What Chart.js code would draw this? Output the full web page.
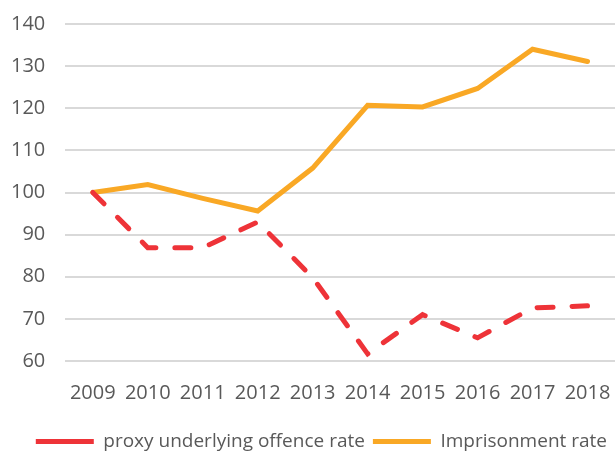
<!DOCTYPE html>
<html>
<head>
<meta charset="utf-8">
<script src="https://cdn.jsdelivr.net/npm/chart.js@4"></script>
<style>
   html, body { margin:0; padding:0; background:#fff; }
   #wrap { width:616px; height:451px; }
</style>
</head>
<body>
<div id="wrap"><canvas id="chart"></canvas></div>
<script>

let years = ["2009","2010","2011","2012","2013","2014","2015","2016","2017","2018"];

let offenceRate = [100, 86.9, 86.9, 93.0, 79.8, 61.7, 71.0, 65.5, 72.6, 73.1];

let imprisonmentRate = [100, 101.9, 98.6, 95.6, 105.8, 120.7, 120.3, 124.7, 134.0, 131.1];

let yTicks = [60, 70, 80, 90, 100, 110, 120, 130, 140];

Chart.defaults.font.family = "'Open Sans', sans-serif";
Chart.defaults.font.size = 20;
Chart.defaults.color = "#595959";

let ctx =
   document.getElementById("chart").getContext("2d");

new Chart(ctx, {

   type: "line",

   data: {

      labels: years,

      datasets: [
         {
            label: "proxy underlying offence rate",
            data: offenceRate,
            borderColor: "#EE3338",
            backgroundColor: "#EE3338",
            borderWidth: 5,
            borderDash: [16, 19],
            borderCapStyle: "round",
            pointRadius: 0,
            pointStyle: "line",
            tension: 0
         },
         {
            label: "Imprisonment rate",
            data: imprisonmentRate,
            borderColor: "#F9A825",
            backgroundColor: "#F9A825",
            borderWidth: 5,
            borderCapStyle: "round",
            pointRadius: 0,
            pointStyle: "line",
            tension: 0
         }
      ]

   },

   options: {

      responsive: true,
      maintainAspectRatio: false,
      animation: false,

      layout: {
         padding: { top: 24, left: 11, right: 1, bottom: -10 }
      },

      plugins: {

         legend: {
            position: "bottom",
            align: "end",
            labels: {
               usePointStyle: true,
               pointStyleWidth: 58,
               boxHeight: 5,
               padding: 8,
               font: { size: 19 }
            }
         },

         tooltip: { enabled: false }

      },

      scales: {

         x: {
            offset: true,
            /* transparent tick marks give the gap under the plot */
            grid: {
               display: true,
               drawOnChartArea: false,
               drawTicks: true,
               tickLength: 20,
               tickColor: "transparent"
            },
            border: { display: false },
            ticks: { padding: 0 },
            afterFit: function(axis){
               axis.height += 19;
            }
         },

         y: {
            min: 60,
            max: 140,
            afterBuildTicks: function(axis){
               axis.ticks = yTicks.map(v => ({ value: v }));
            },
            grid: {
               color: "#D9D9D9",
               lineWidth: 2,
               drawTicks: true,
               tickLength: 20,
               tickColor: "transparent"
            },
            border: { display: false },
            ticks: { padding: 0 }
         }

      }

   }

});

</script>
</body>
</html>
